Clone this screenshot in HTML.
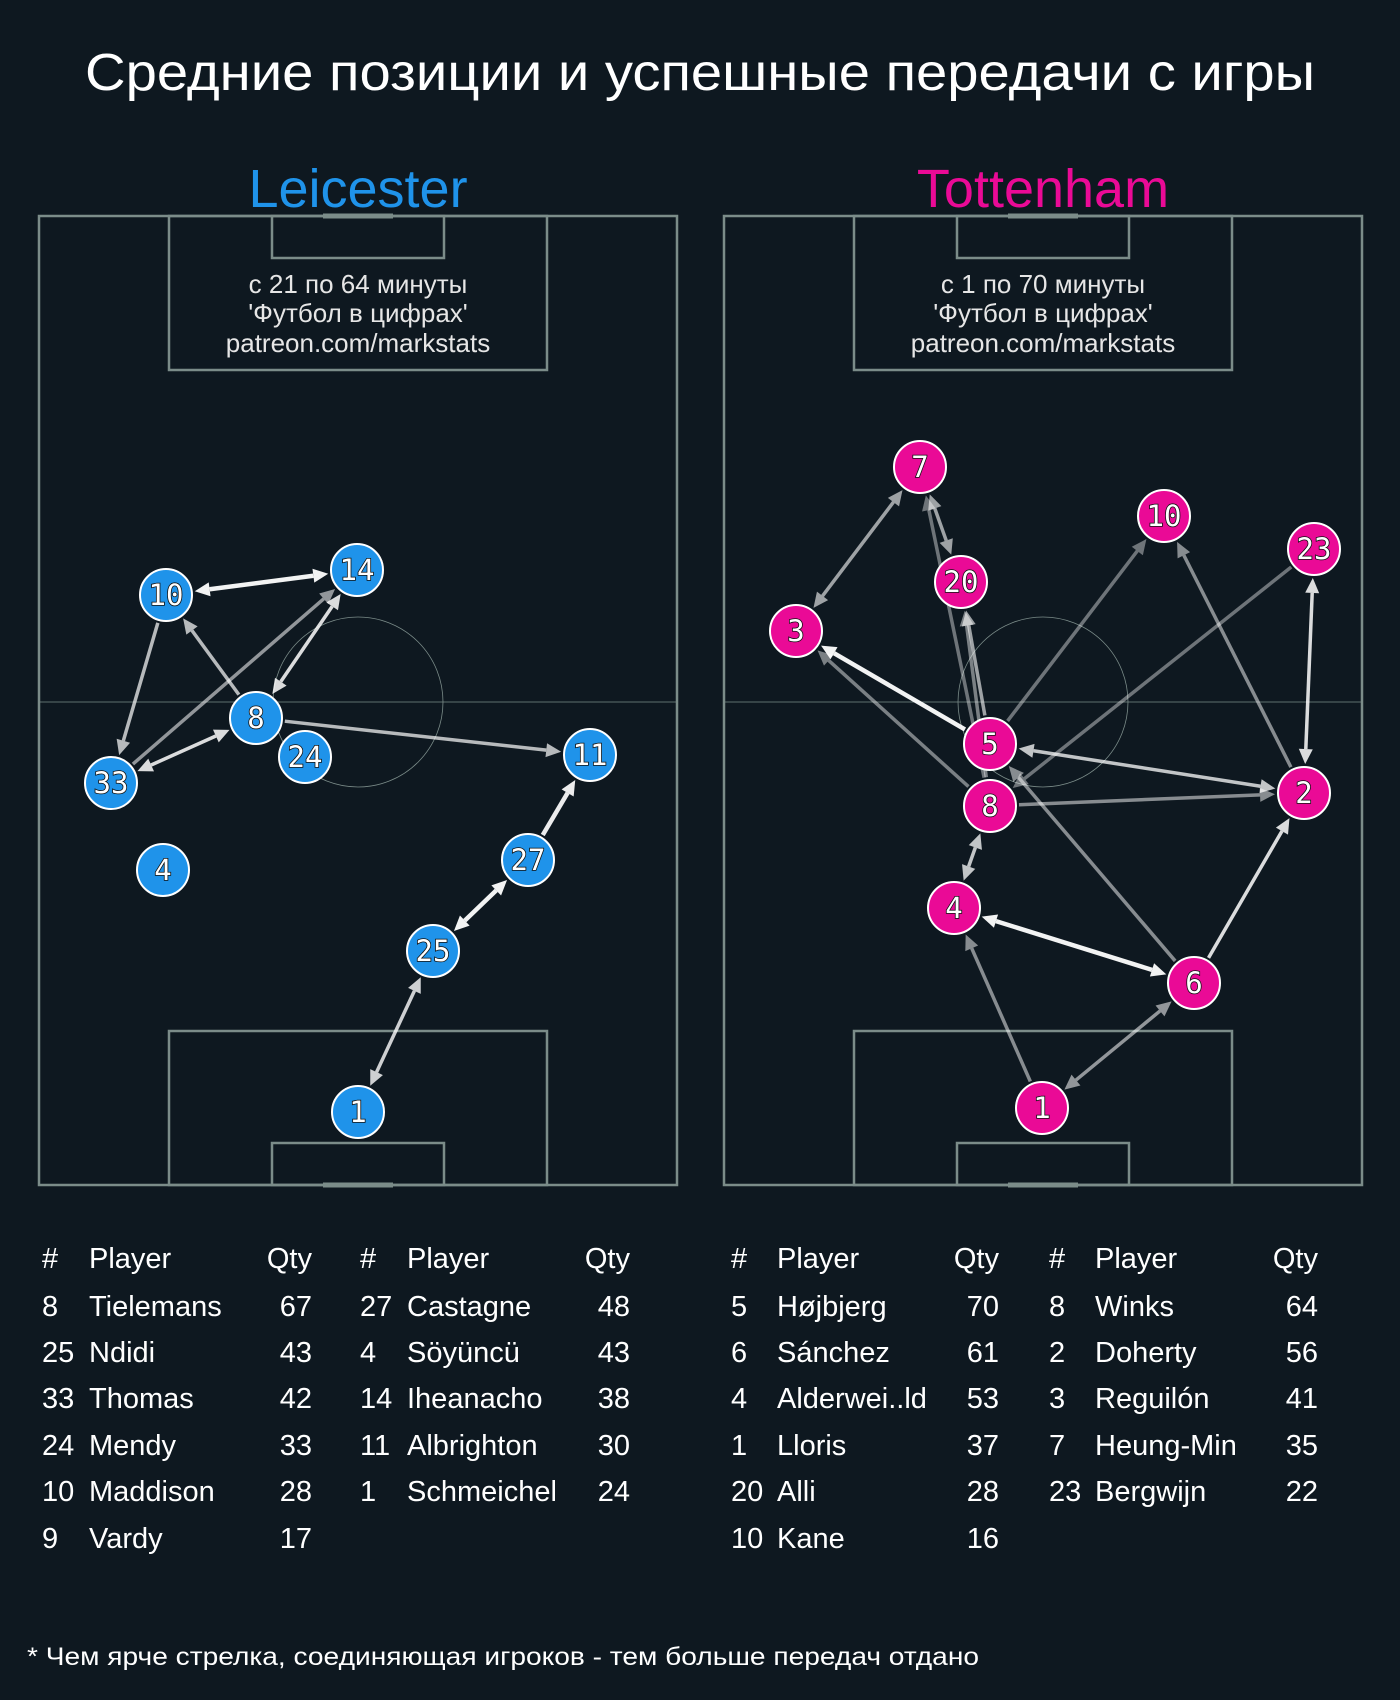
<!DOCTYPE html>
<html><head><meta charset="utf-8"><style>
html,body{margin:0;padding:0;background:#0e1820;}
svg{display:block;}
text{font-family:"Liberation Sans","DejaVu Sans",sans-serif;}
.n{font-family:"DejaVu Sans Mono","Liberation Mono",monospace;font-size:29px;fill:#fff;stroke:#111;stroke-width:1.6px;paint-order:stroke;text-anchor:middle;dominant-baseline:central;}
.t{font-size:29px;fill:#fff;}
</style></head><body>
<svg id="s" width="1400" height="1700" viewBox="0 0 1400 1700" xmlns="http://www.w3.org/2000/svg">
<rect width="1400" height="1700" fill="#0e1820"/>
<text x="85" y="90" font-size="52" fill="#fff" textLength="1230" lengthAdjust="spacingAndGlyphs">Средние позиции и успешные передачи с игры</text>
<text x="358" y="207" text-anchor="middle" font-size="54" fill="#1f93ea">Leicester</text>
<text x="1043" y="207" text-anchor="middle" font-size="54" fill="#ea0a96">Tottenham</text>
<g id="pitches"></g>
<g id="arrows"></g>
<g id="players"></g>
<g id="tables"></g>
<text x="27" y="1665" font-size="25" fill="#fff" textLength="952" lengthAdjust="spacingAndGlyphs">* Чем ярче стрелка, соединяющая игроков - тем больше передач отдано</text>
</svg>
<script>
var NS="http://www.w3.org/2000/svg";
function el(p,tag,at,txt){var e=document.createElementNS(NS,tag);for(var k in at)e.setAttribute(k,at[k]);if(txt!==undefined)e.textContent=txt;document.getElementById(p).appendChild(e);return e;}
var lc="#7b8c89";
[39,724].forEach(function(x0){
 var W=638,T=216,B=1185,cx=x0+W/2;
 el("pitches","rect",{x:x0,y:T,width:W,height:B-T,fill:"none",stroke:lc,"stroke-width":2.5});
 el("pitches","rect",{x:cx-189,y:T,width:378,height:154,fill:"none",stroke:lc,"stroke-width":2.5});
 el("pitches","rect",{x:cx-86,y:T,width:172,height:42,fill:"none",stroke:lc,"stroke-width":2.5});
 el("pitches","rect",{x:cx-189,y:B-154,width:378,height:154,fill:"none",stroke:lc,"stroke-width":2.5});
 el("pitches","rect",{x:cx-86,y:B-42,width:172,height:42,fill:"none",stroke:lc,"stroke-width":2.5});
 el("pitches","line",{x1:cx-35,y1:T,x2:cx+35,y2:T,stroke:lc,"stroke-width":5});
 el("pitches","line",{x1:cx-35,y1:B,x2:cx+35,y2:B,stroke:lc,"stroke-width":5});
 el("pitches","line",{x1:x0,y1:702,x2:x0+W,y2:702,stroke:lc,"stroke-width":0.8});
 el("pitches","circle",{cx:cx,cy:702,r:85,fill:"none",stroke:lc,"stroke-width":0.8});
});
[[358,"с 21 по 64 минуты"],[1043,"с 1 по 70 минуты"]].forEach(function(a){
 el("pitches","text",{x:a[0],y:293,"text-anchor":"middle","font-size":26,fill:"#e6e6e6"},a[1]);
 el("pitches","text",{x:a[0],y:322,"text-anchor":"middle","font-size":26,fill:"#e6e6e6"},"'Футбол в цифрах'");
 el("pitches","text",{x:a[0],y:352,"text-anchor":"middle","font-size":26,fill:"#e6e6e6"},"patreon.com/markstats");
});
var L={10:[166,595],14:[357,570],8:[256,718],24:[305,757],33:[111,783],11:[590,755],4:[163,870],27:[528,860],25:[433,951],1:[358,1112]};
var R={7:[920,467],10:[1164,516],23:[1314,549],20:[961,582],3:[796,631],5:[990,744],8:[990,806],2:[1304,793],4:[954,908],6:[1194,983],1:[1042,1108]};
var r=26;
function arrow(P,a,b,al,both){
 var p=P[a],q=P[b],dx=q[0]-p[0],dy=q[1]-p[1],d=Math.hypot(dx,dy),ux=dx/d,uy=dy/d;
 var x1=p[0]+ux*(r+3),y1=p[1]+uy*(r+3),x2=q[0]-ux*(r+3),y2=q[1]-uy*(r+3);
 var c="rgba(255,255,255,"+al+")",w=al>0.85?4.5:3.5;
 var hl=15,hw=7;
 function head(x,y,ux,uy){var bx=x-ux*hl,by=y-uy*hl;el("arrows","polygon",{points:x+","+y+" "+(bx-uy*hw)+","+(by+ux*hw)+" "+(bx+uy*hw)+","+(by-ux*hw),fill:c});return [bx,by];}
 var e=head(x2,y2,ux,uy),s=[x1,y1];
 if(both)s=head(x1,y1,-ux,-uy);
 el("arrows","line",{x1:s[0],y1:s[1],x2:e[0],y2:e[1],stroke:c,"stroke-width":w});
}
[[10,14,.95,1],[10,33,.7],[8,10,.7],[14,8,.85,1],[33,14,.55],[8,33,.85,1],[8,11,.7],[27,11,.92],[25,27,.95,1],[1,25,.8,1]].forEach(function(a){arrow(L,a[0],a[1],a[2],a[3]);});
[[3,7,.6,1],[7,20,.6,1],[8,7,.4],[5,20,.6],[8,20,.45],[5,3,.95],[8,3,.45],[5,10,.4],[23,8,.4],[2,10,.5],[2,23,.85,1],[2,5,.75,1],[8,2,.5],[6,5,.5],[4,8,.75,1],[4,6,.95,1],[6,2,.85],[1,4,.5],[1,6,.55,1]].forEach(function(a){arrow(R,a[0],a[1],a[2],a[3]);});
function pl(P,col){for(var k in P){el("players","circle",{cx:P[k][0],cy:P[k][1],r:r,fill:col,stroke:"#fff","stroke-width":2});el("players","text",{x:P[k][0],y:P[k][1],"class":"n"},k);}}
pl(L,"#1f93ea");pl(R,"#ea0a96");
var ys=[1268,1316,1362,1408,1455,1501,1548];
function tab(xh,xp,xq,rows){
 el("tables","text",{x:xh,y:ys[0],"class":"t"},"#");el("tables","text",{x:xp,y:ys[0],"class":"t"},"Player");el("tables","text",{x:xq,y:ys[0],"class":"t","text-anchor":"end"},"Qty");
 rows.forEach(function(rw,i){el("tables","text",{x:xh,y:ys[i+1],"class":"t"},rw[0]);el("tables","text",{x:xp,y:ys[i+1],"class":"t"},rw[1]);el("tables","text",{x:xq,y:ys[i+1],"class":"t","text-anchor":"end"},rw[2]);});
}
tab(42,89,312,[["8","Tielemans","67"],["25","Ndidi","43"],["33","Thomas","42"],["24","Mendy","33"],["10","Maddison","28"],["9","Vardy","17"]]);
tab(360,407,630,[["27","Castagne","48"],["4","Söyüncü","43"],["14","Iheanacho","38"],["11","Albrighton","30"],["1","Schmeichel","24"]]);
tab(731,777,999,[["5","Højbjerg","70"],["6","Sánchez","61"],["4","Alderwei..ld","53"],["1","Lloris","37"],["20","Alli","28"],["10","Kane","16"]]);
tab(1049,1095,1318,[["8","Winks","64"],["2","Doherty","56"],["3","Reguilón","41"],["7","Heung-Min","35"],["23","Bergwijn","22"]]);
</script>
</body></html>
